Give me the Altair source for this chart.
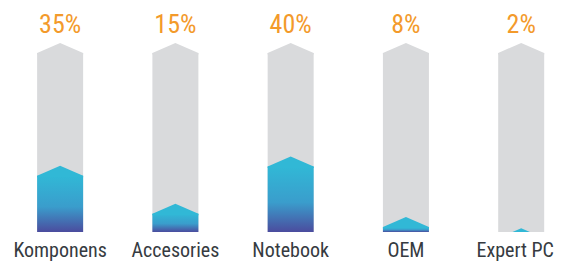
import altair as alt
import pandas as pd

categories = ["Komponens", "Accesories", "Notebook", "OEM", "Expert PC"]
values = [35, 15, 40, 8, 2]
labels = ["35%", "15%", "40%", "8%", "2%"]

df = pd.DataFrame({
    "idx": list(range(len(categories))),
    "cat": categories,
    "val": values,
    "lbl": labels,
    "full": [100] * len(categories),
})

FONT = "Liberation Sans Narrow, Roboto Condensed, DejaVu Sans Condensed, Liberation Sans"
BW = 46
CAP = 10
GRAY = "#d9dadc"
CYAN = "#31b8d6"
PURPLE = "#4b4c9e"

r = BW / 2
s = CAP / r
s2 = (CAP + 1.5) / r
cap_path = f"M -1 {s:.4f} L 0 0 L 1 {s:.4f} L 1 {s2:.4f} L -1 {s2:.4f} Z"
cap_size = BW * BW

x = alt.X("idx:Q", scale=alt.Scale(domain=[-48 / 117.4, (550 - 48) / 117.4], nice=False, zero=False), axis=None)
y_scale = alt.Scale(domain=[0, 100], nice=False)

base = alt.Chart(df).encode(x=x)

gray_bar = base.mark_bar(size=BW, color=GRAY, yOffset=CAP).encode(
    y=alt.Y("full:Q", scale=y_scale, axis=None), y2=alt.datum(0)
)
gray_cap = base.mark_point(shape=cap_path, size=cap_size, filled=True, color=GRAY, opacity=1, strokeWidth=0).encode(
    y=alt.Y("full:Q", scale=y_scale)
)

grad = alt.LinearGradient(
    gradient="linear",
    stops=[alt.GradientStop(color=CYAN, offset=0), alt.GradientStop(color="#3a9dcc", offset=0.55), alt.GradientStop(color=PURPLE, offset=1)],
    x1=0, x2=0, y1=0, y2=1,
)
blue_bar = base.mark_bar(size=BW, color=grad, yOffset=CAP, clip=True).encode(
    y=alt.Y("val:Q", scale=y_scale), y2=alt.datum(0)
)
blue_cap = base.mark_point(shape=cap_path, size=cap_size, filled=True, color=CYAN, opacity=1, strokeWidth=0, clip=True).encode(
    y=alt.Y("val:Q", scale=y_scale)
)

pct = base.mark_text(font=FONT, fontSize=26, color="#f39a2b", baseline="alphabetic", dy=-10).encode(
    y=alt.Y("full:Q", scale=y_scale), text="lbl:N"
)
cat_main = base.transform_filter("datum.idx < 4").mark_text(
    font=FONT, fontSize=20, color="#363b41", baseline="alphabetic", dy=25
).encode(y=alt.datum(0), text="cat:N")
cat_last = base.transform_filter("datum.idx == 4").mark_text(
    font=FONT, fontSize=20, color="#363b41", baseline="alphabetic", dy=25, dx=-6
).encode(y=alt.datum(0), text="cat:N")

chart = alt.layer(gray_bar, gray_cap, blue_bar, blue_cap, pct, cat_main, cat_last).properties(
    width=550, height=189,
    autosize=alt.AutoSizeParams(type="none"),
    padding={"left": 0, "right": 0, "top": 35, "bottom": 31},
).configure_view(stroke=None)

chart.save("out.html", embed_options={"renderer": "svg", "actions": False})
